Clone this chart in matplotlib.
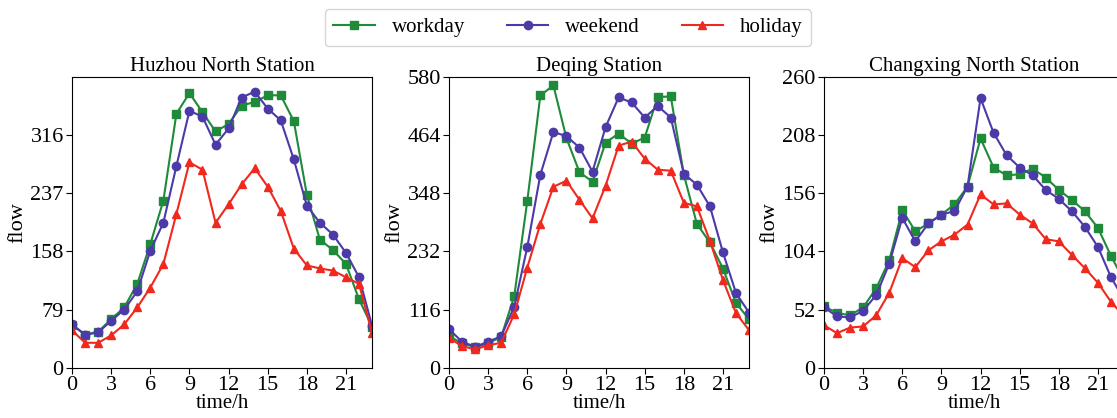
import numpy as np
import matplotlib.pyplot as plt

plt.rcParams['font.family'] = ['Liberation Serif', 'DejaVu Serif']

hours = np.arange(24)
labels = ['workday', 'weekend', 'holiday']
colors = ['#1f8a3a', '#4b3aa8', '#f0281e']
markers = ['s', 'o', '^']

stations = ['Huzhou North Station', 'Deqing Station', 'Changxing North Station']

huzhou_workday = [58, 45, 49, 66, 82, 114, 168, 227, 345, 373, 347, 321, 331, 356,
                  361, 370, 370, 335, 235, 174, 160, 141, 93, 56]
huzhou_weekend = [59, 45, 48, 64, 79, 104, 159, 197, 274, 349, 341, 303, 325, 367,
                  375, 352, 336, 283, 220, 197, 181, 156, 123, 57]
huzhou_holiday = [51, 34, 34, 44, 59, 82, 109, 141, 209, 279, 269, 197, 222, 249,
                  271, 246, 213, 162, 139, 135, 132, 123, 114, 47]

deqing_workday = [63, 49, 41, 49, 62, 143, 333, 543, 563, 458, 390, 371, 449, 467,
                  447, 459, 540, 541, 385, 287, 250, 198, 129, 97]
deqing_weekend = [77, 52, 42, 52, 63, 122, 241, 385, 470, 462, 439, 391, 480, 539,
                  529, 499, 522, 499, 387, 365, 322, 230, 149, 110]
deqing_holiday = [60, 43, 37, 45, 50, 107, 200, 287, 361, 373, 335, 298, 363, 443,
                  451, 417, 395, 393, 329, 322, 253, 175, 109, 75]

changxing_workday = [55, 49, 47, 54, 71, 96, 141, 122, 129, 137, 146, 162, 205, 179,
                     172, 173, 178, 170, 159, 150, 140, 125, 100, 78]
changxing_weekend = [54, 46, 45, 51, 65, 93, 134, 113, 129, 137, 140, 162, 241, 210,
                     190, 179, 172, 159, 151, 140, 126, 108, 81, 61]
changxing_holiday = [38, 31, 36, 37, 47, 67, 98, 90, 105, 113, 119, 128, 155, 146,
                     147, 137, 129, 115, 113, 101, 89, 76, 59, 46]

data = [
    [huzhou_workday, huzhou_weekend, huzhou_holiday],
    [deqing_workday, deqing_weekend, deqing_holiday],
    [changxing_workday, changxing_weekend, changxing_holiday],
]
yticks = [[0, 79, 158, 237, 316], [0, 116, 232, 348, 464, 580], [0, 52, 104, 156, 208, 260]]
ylims = [395, 580, 260]

fig = plt.figure(figsize=(11.17, 4.18), dpi=100)
lefts = [0.0645, 0.402, 0.7377]

for i in range(3):
    ax = fig.add_axes([lefts[i], 0.12, 0.2686, 0.696])
    for j in range(3):
        ax.plot(hours, data[i][j], color=colors[j], marker=markers[j],
                markersize=6, linewidth=1.5, label=labels[j])
    ax.set_xlim(0, 23)
    ax.set_ylim(0, ylims[i])
    ax.set_xticks(np.arange(0, 24, 3))
    ax.set_yticks(yticks[i])
    ax.tick_params(labelsize=16, length=4, pad=2)
    ax.set_title(stations[i], fontsize=15, pad=4)
    ax.set_xlabel('time/h', fontsize=15, labelpad=-1)
    ax.set_ylabel('flow', fontsize=16, labelpad=2)
    if i == 0:
        handles, lbls = ax.get_legend_handles_labels()

fig.legend(handles, lbls, loc='center', bbox_to_anchor=(0.5085, 0.934), ncol=3,
           fontsize=15, columnspacing=2.0, handlelength=2.0, frameon=True,
           edgecolor='#cccccc', borderpad=0.4)

fig.savefig('out.png', dpi=100)
